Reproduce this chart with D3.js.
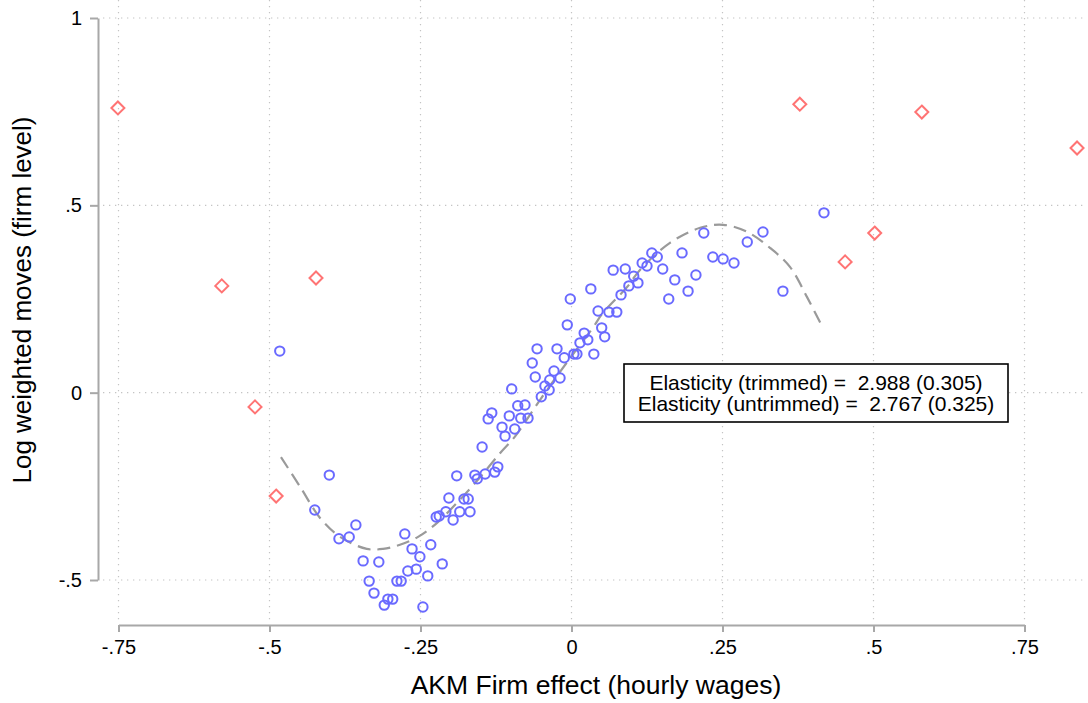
<!DOCTYPE html>
<html><head><meta charset="utf-8">
<script src="https://cdn.jsdelivr.net/npm/d3@7"></script>
<style>
html,body{margin:0;padding:0;background:#fff;}
svg{display:block;font-family:"Liberation Sans",Arial,sans-serif;}
</style></head>
<body><svg id="c" width="1088" height="703"></svg>
<script>
// Trimmed (binned) observations: AKM firm effect vs log weighted moves
const trimmedX = [-0.483,-0.401,-0.425,-0.357,-0.385,-0.368,-0.345,-0.319,-0.276,-0.264,
 -0.251,-0.233,-0.214,-0.335,-0.327,-0.310,-0.304,-0.296,-0.289,-0.282,
 -0.271,-0.257,-0.238,-0.246,-0.224,-0.219,-0.208,-0.196,-0.203,-0.185,
 -0.178,-0.171,-0.168,-0.190,-0.160,-0.156,-0.143,-0.127,-0.122,-0.148,
 -0.138,-0.132,-0.115,-0.110,-0.094,-0.103,-0.089,-0.077,-0.084,-0.072,
 -0.099,-0.065,-0.060,-0.029,-0.036,-0.044,-0.037,-0.050,-0.057,-0.024,
 -0.012,-0.019,0.004,0.009,0.037,-0.007,-0.002,0.032,0.014,0.021,
 0.027,0.050,0.055,0.044,0.062,0.075,0.082,0.095,0.103,0.110,
 0.069,0.089,0.117,0.125,0.133,0.142,0.151,0.161,0.171,0.193,
 0.206,0.183,0.219,0.234,0.251,0.269,0.291,0.317,0.350,0.418];
const trimmedY = [0.111,-0.220,-0.313,-0.353,-0.390,-0.385,-0.449,-0.452,-0.377,-0.417,
 -0.438,-0.406,-0.457,-0.503,-0.535,-0.567,-0.551,-0.551,-0.503,-0.503,
 -0.476,-0.471,-0.489,-0.572,-0.332,-0.329,-0.318,-0.340,-0.281,-0.318,
 -0.284,-0.284,-0.318,-0.222,-0.220,-0.230,-0.217,-0.212,-0.198,-0.145,
 -0.070,-0.054,-0.092,-0.116,-0.097,-0.062,-0.035,-0.033,-0.068,-0.068,
 0.010,0.079,0.042,0.058,0.034,0.018,0.007,-0.011,0.117,0.117,
 0.093,0.039,0.103,0.103,0.103,0.181,0.250,0.277,0.133,0.159,
 0.141,0.173,0.149,0.218,0.215,0.215,0.261,0.285,0.311,0.293,
 0.327,0.330,0.346,0.338,0.373,0.362,0.330,0.250,0.301,0.271,
 0.314,0.373,0.426,0.362,0.357,0.346,0.402,0.429,0.271,0.480];
// Observations dropped by trimming
const outlierX = [-0.751,-0.579,-0.423,-0.524,-0.489,0.378,0.580,0.837,0.502,0.453];
const outlierY = [0.760,0.285,0.306,-0.038,-0.276,0.770,0.749,0.653,0.426,0.349];
// Fitted polynomial (dashed)
const fitX = [-0.481,-0.449,-0.416,-0.383,-0.339,-0.312,-0.284,-0.254,-0.223,-0.185,
 -0.151,-0.118,-0.094,-0.052,-0.007,0.036,0.052,0.092,0.113,0.163,
 0.213,0.251,0.291,0.329,0.362,0.390,0.413];
const fitY = [-0.172,-0.252,-0.335,-0.385,-0.417,-0.417,-0.406,-0.385,-0.348,-0.286,
 -0.225,-0.161,-0.118,-0.019,0.082,0.175,0.213,0.282,0.327,0.400,
 0.440,0.448,0.429,0.386,0.335,0.255,0.183];
const xTicks = [-0.75,-0.5,-0.25,0,0.25,0.5,0.75];
const xTickLabels = ["-.75","-.5","-.25","0",".25",".5",".75"];
const yTicks = [-0.5,0,0.5,1];
const yTickLabels = ["-.5","0",".5","1"];
const xTitle = "AKM Firm effect (hourly wages)";
const yTitle = "Log weighted moves (firm level)";
const boxLines = ["Elasticity (trimmed) =  2.988 (0.305)","Elasticity (untrimmed) =  2.767 (0.325)"];

const svg = d3.select("#c");
const x = d3.scaleLinear().domain([-0.75,0.75]).range([118.5,1024.5]);
const y = d3.scaleLinear().domain([-0.5,1]).range([580,18]);
const plotL = 103, plotR = 1086, plotT = 0, plotB = 620;

// grid
const grid = svg.append("g").attr("stroke","#c4c4c4").attr("stroke-width",1.2).attr("stroke-dasharray","1.3,4.7");
grid.selectAll(".h").data(yTicks).enter().append("line")
  .attr("x1",plotL).attr("x2",plotR).attr("y1",d=>y(d)).attr("y2",d=>y(d));
grid.selectAll(".v").data(xTicks).enter().append("line")
  .attr("y1",plotT).attr("y2",plotB).attr("x1",d=>x(d)).attr("x2",d=>x(d));

// axes
const yAxis = d3.axisLeft(y).tickValues(yTicks).tickFormat((d,i)=>yTickLabels[i]).tickSize(8).tickSizeOuter(0).tickPadding(8);
const gy = svg.append("g").attr("transform","translate(98,0)").call(yAxis);
const xAxis = d3.axisBottom(x).tickValues(xTicks).tickFormat((d,i)=>xTickLabels[i]).tickSize(7).tickSizeOuter(0).tickPadding(8);
const gx = svg.append("g").attr("transform","translate(0,625)").call(xAxis);
[gx,gy].forEach(g=>{
  g.select(".domain").attr("stroke","#a8a8a8").attr("stroke-width",2);
  g.selectAll(".tick line").attr("stroke","#a8a8a8").attr("stroke-width",2);
  g.selectAll(".tick text").attr("fill","#000").style("font-size","20px").style("font-family","Liberation Sans, Arial, sans-serif");
});

// fitted line
svg.append("path").datum(fitX.map((v,i)=>[v,fitY[i]]))
  .attr("fill","none").attr("stroke","#9a9a9a").attr("stroke-width",2.2)
  .attr("stroke-dasharray","13,7")
  .attr("d",d3.line().x(d=>x(d[0])).y(d=>y(d[1])).curve(d3.curveCatmullRom));

// trimmed circles
svg.append("g").selectAll("circle").data(trimmedX.map((v,i)=>[v,trimmedY[i]])).enter().append("circle")
  .attr("cx",d=>x(d[0])).attr("cy",d=>y(d[1])).attr("r",4.7)
  .attr("fill","none").attr("stroke","#6a6aff").attr("stroke-width",2);

// outlier diamonds
svg.append("g").selectAll("path").data(outlierX.map((v,i)=>[v,outlierY[i]])).enter().append("path")
  .attr("transform",d=>`translate(${x(d[0])},${y(d[1])})`)
  .attr("d","M0,-6.5L6.5,0L0,6.5L-6.5,0Z")
  .attr("fill","none").attr("stroke","#ff7474").attr("stroke-width",2);

// annotation box
svg.append("rect").attr("x",624).attr("y",364).attr("width",384).attr("height",58)
  .attr("fill","#fff").attr("stroke","#000").attr("stroke-width",1.6);
svg.append("g").selectAll("text").data(boxLines).enter().append("text")
  .attr("x",816).attr("y",(d,i)=>390+i*21).attr("text-anchor","middle")
  .style("white-space","pre").attr("xml:space","preserve")
  .style("font-size","21px").attr("fill","#000").text(d=>d);

// titles
svg.append("text").attr("x",596).attr("y",694).attr("text-anchor","middle")
  .style("font-size","26.5px").text(xTitle);
svg.append("text").attr("transform","translate(31,300) rotate(-90)").attr("text-anchor","middle")
  .style("font-size","26px").text(yTitle);
</script></body></html>
